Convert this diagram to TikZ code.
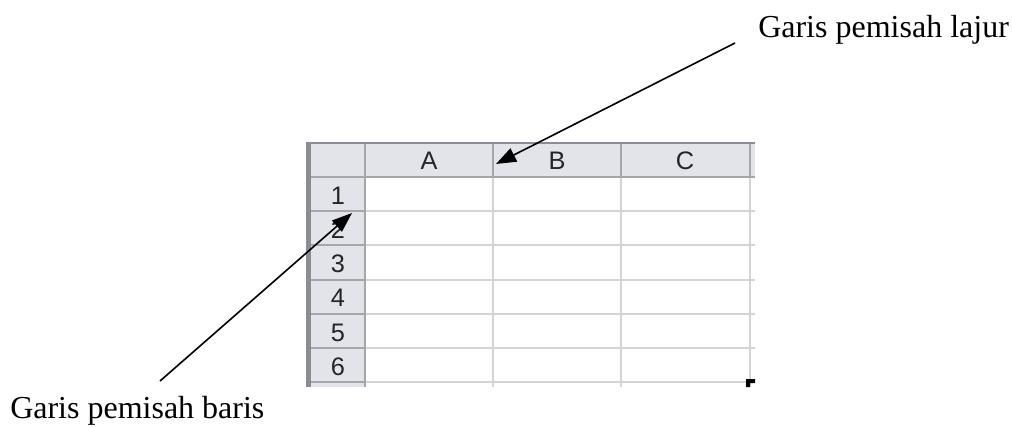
\documentclass[tikz,border=0pt]{standalone}
\usepackage{fontspec}
\setmainfont{Liberation Serif}
\newfontfamily\cellfont{Liberation Sans}
\usepackage{tikz}
\usetikzlibrary{arrows.meta}
\definecolor{headfill}{RGB}{227,227,234}
\definecolor{headline}{RGB}{165,165,170}
\definecolor{gridline}{RGB}{212,212,212}
\definecolor{frameline}{RGB}{140,140,150}
\tikzset{
  pointer/.style={line width=1.2pt, -{Triangle[length=15pt,width=11pt]}},
  cellhead/.style={font=\cellfont\fontsize{19}{19}\selectfont, text=black!85, anchor=base, inner sep=0pt},
  callout/.style={font=\fontsize{24}{24}\selectfont, anchor=base west, inner sep=0pt},
}

\begin{document}
\begin{tikzpicture}[x=0.75pt, y=-0.75pt]
  \useasboundingbox (0,0) rectangle (1012,427);
  % header strips
  \fill[headfill] (311,144) rectangle (755,177);
  \fill[headfill] (311,177) rectangle (365,387);
  % grid lines
  \foreach \y in {211,245,280,314,348,382}
    \draw[gridline, line width=1.5pt] (365,\y) -- (755,\y);
  \foreach \x in {493,621,750}
    \draw[gridline, line width=1.5pt] (\x,177) -- (\x,387);
  % header separators
  \foreach \y in {211,245,280,314,348,382}
    \draw[headline, line width=1.5pt] (311,\y) -- (365,\y);
  \foreach \x in {365,493,621,750}
    \draw[headline, line width=1.5pt] (\x,144) -- (\x,177);
  \draw[headline, line width=1.5pt] (311,177) -- (755,177);
  \draw[headline, line width=1.5pt] (365,177) -- (365,387);
  % frame and fill handle
  \fill[frameline] (306,142) rectangle (311,387);
  \fill[frameline] (306,142) rectangle (755,144);
  \fill (746,379) -- (755,379) -- (755,383) -- (750,383) -- (750,387) -- (746,387) -- cycle;

  % column and row headers
  \foreach \c/\x in {A/429,B/557,C/685}
    \node[cellhead] (col\c) at (\x,170) {\c};
  \foreach \r in {1,...,6}
    \node[cellhead] (row\r) at (338,{170+34.2*\r}) {\r};

  % callouts
  \node[callout] (lajur) at (758,38) {Garis pemisah lajur};
  \node[callout] (baris) at (10,418) {Garis pemisah baris};
  \coordinate (lajurtail) at ([shift={(-23,5)}]lajur.base west);
  \coordinate (baristail) at ([shift={(150,-37)}]baris.base west);
  \coordinate (coltip) at (496,164);
  \coordinate (rowtip) at (352,213);
  \draw[pointer] (lajurtail) -- (coltip);
  \draw[pointer] (baristail) -- (rowtip);
\end{tikzpicture}
\end{document}
